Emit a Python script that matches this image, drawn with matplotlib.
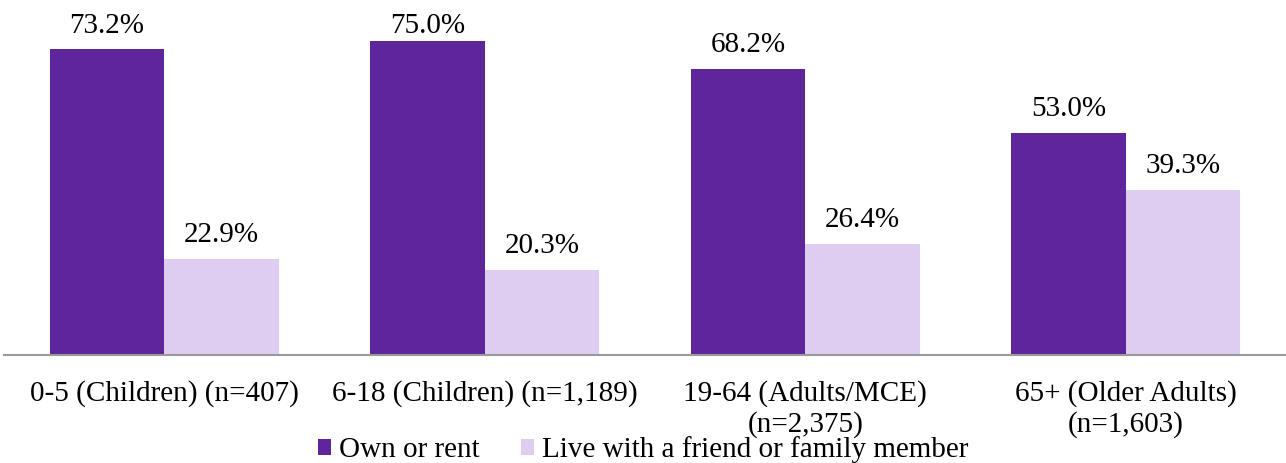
import matplotlib
matplotlib.use("Agg")
import matplotlib.pyplot as plt
import numpy as np

categories = ["0-5 (Children) (n=407)", "6-18 (Children) (n=1,189)",
              "19-64 (Adults/MCE)\n(n=2,375)", "65+ (Older Adults)\n(n=1,603)"]
series_names = ["Own or rent", "Live with a friend or family member"]
own_or_rent = [73.2, 75.0, 68.2, 53.0]
live_with = [22.9, 20.3, 26.4, 39.3]

colors = ["#5F269B", "#DFCDF1"]

plt.rcParams['font.family'] = ['Liberation Serif', 'DejaVu Serif']

W, H = 1286, 463
AX_H = 355
YMAX = 84.8
fig = plt.figure(figsize=(W / 100, H / 100), dpi=100)
ax = fig.add_axes([4 / W, (H - AX_H) / H, 1282 / W, AX_H / H])

x = np.arange(len(categories))
bw = 0.358
fs = 21
ppu = AX_H / YMAX          # pixels per data unit
cap = AX_H - 33            # highest baseline position (px above axis)
for i, (vals, name, c) in enumerate(zip([own_or_rent, live_with], series_names, colors)):
    pos = x + (i - 0.5) * bw
    ax.bar(pos, vals, width=bw, color=c, label=name)
    for p, v in zip(pos, vals):
        base_px = min(v * ppu + 17, cap)
        off_pt = (base_px - v * ppu) * 0.72
        ax.annotate(f"{v:.1f}%", (p, v), xytext=(0, off_pt), textcoords="offset points",
                    ha="center", va="baseline", fontsize=fs, annotation_clip=False)

ax.set_xlim(-0.5, 3.5)
ax.set_ylim(0, YMAX)
ax.set_yticks([])
for s in ["top", "right", "left"]:
    ax.spines[s].set_visible(False)
ax.spines["bottom"].set_color("#999999")
ax.spines["bottom"].set_linewidth(1.5)
ax.set_xticks(x)
ax.set_xticklabels(categories, fontsize=fs, linespacing=1.22)
ax.tick_params(axis="x", length=0, pad=18)

leg = fig.legend(loc="center", bbox_to_anchor=(643 / W, 1 - 450 / H), ncol=2, frameon=False,
                 fontsize=fs, handlelength=0.45, handleheight=0.45, handletextpad=0.28,
                 columnspacing=1.4, borderpad=0)

fig.savefig("out.png", dpi=100)
